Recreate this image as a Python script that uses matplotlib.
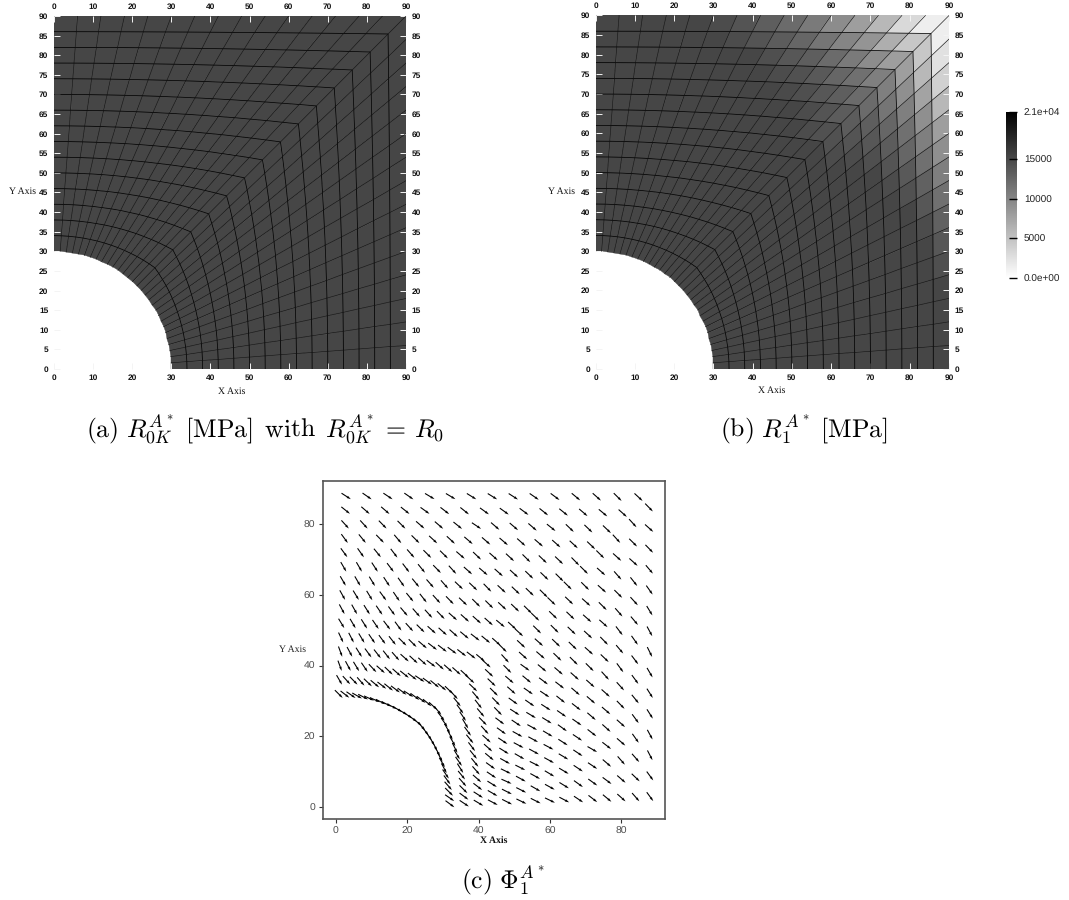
import numpy as np
import matplotlib
matplotlib.use('Agg')
import matplotlib.pyplot as plt
from matplotlib.cm import ScalarMappable
from matplotlib.colors import Normalize

plt.rcParams['font.family'] = ['Liberation Sans', 'DejaVu Sans']
plt.rcParams['mathtext.fontset'] = 'cm'
plt.rcParams['text.hinting'] = 'none'

W, H = 1069, 900

# mesh: hoops cross the left edge here, radials cross the top/right edge here
hoop_y = [30, 34, 38, 42, 46, 50, 54, 58, 62, 66, 70, 74, 78, 82, 86, 90]
edge_pos = [0, 6, 12, 18, 24, 30, 36, 42, 48, 54, 60, 66, 72, 78, 84, 90]
arc_deg = [90, 87, 84, 81, 78, 75, 72, 69, 66, 63, 60, 57, 54, 51, 48, 45,
           42, 39, 36, 33, 30, 27, 24, 21, 18, 15, 12, 9, 6, 3, 0]
hole_r = 30

# panel (a), MPa
r0_value = 15200

# panel (b), MPa, cells counted away from the diagonal, outer hoop first
r1_base = 15200
r1_top = [
    [1470, 3150, 5880, 7980, 9450, 10920, 12180, 13230, 14070, 14700],
    [4620, 6720, 8820, 10080, 11340, 12600, 13440, 14070, 14700],
    [7980, 9450, 10920, 12180, 13230, 13860, 14490],
    [10500, 11760, 12600, 13650, 14280, 14700],
    [12180, 13230, 13860, 14490, 14910],
    [13440, 14070, 14700],
    [14280, 14700],
]
r1_side = [
    [1470, 2520, 3780, 5880, 7980, 9240, 10500, 11760, 13020, 13860, 14490],
    [4620, 5880, 7560, 9240, 10500, 11760, 13020, 13860, 14700],
    [7980, 9240, 10500, 11760, 12600, 13650, 14280],
    [10500, 11340, 12600, 13440, 14070, 14700],
    [12180, 13230, 13860, 14490],
    [13440, 14070, 14700],
    [14280, 14700],
]

# panel (c), direction in degrees, one list per hoop from the outside in, left edge to bottom/right edge
phi_01 = [-33, -35, -34, -35, -31, -31, -32, -32, -33, -35, -37, -40, -42, -45, -43,
          -46, -42, -46, -50, -55, -59, -62, -64, -60, -58, -58, -62, -63, -54, -54]
phi_02 = [-39, -41, -41, -39, -36, -38, -39, -36, -36, -37, -39, -39, -41, -40, -42,
          -48, -45, -42, -52, -48, -50, -55, -53, -54, -51, -54, -55, -49, -44, -49]
phi_03 = [-48, -48, -46, -45, -41, -41, -39, -34, -41, -41, -41, -39, -44, -44, -44,
          -48, -42, -49, -45, -49, -53, -50, -54, -48, -46, -42, -41, -49, -41, -42]
phi_04 = [-54, -51, -46, -50, -45, -43, -43, -41, -41, -41, -42, -41, -42, -43, -44,
          -45, -42, -42, -45, -42, -46, -44, -48, -42, -41, -42, -38, -41, -37, -40]
phi_05 = [-54, -55, -51, -53, -49, -45, -45, -41, -44, -42, -43, -45, -44, -44, -46,
          -45, -45, -42, -42, -43, -42, -45, -42, -41, -41, -38, -30, -34, -36, -38]
phi_06 = [-60, -60, -57, -53, -53, -51, -46, -48, -42, -41, -42, -43, -44, -44, -45,
          -45, -44, -44, -44, -44, -45, -42, -41, -38, -35, -34, -34, -34, -36, -34]
phi_07 = [-60, -60, -59, -57, -55, -51, -49, -49, -44, -44, -46, -43, -44, -44, -45,
          -44, -44, -45, -44, -44, -41, -38, -39, -35, -36, -33, -31, -31, -32, -28]
phi_08 = [-61, -59, -59, -54, -56, -51, -52, -48, -46, -44, -45, -45, -43, -44, -45,
          -44, -45, -42, -41, -40, -37, -34, -33, -32, -31, -28, -29, -31, -29, -26]
phi_09 = [-62, -61, -58, -56, -54, -50, -49, -48, -46, -42, -42, -42, -42, -40, -43,
          -43, -43, -42, -36, -40, -35, -35, -31, -29, -29, -29, -27, -29, -30, -27]
phi_10 = [-59, -60, -58, -56, -53, -54, -48, -45, -42, -42, -42, -40, -38, -40, -42,
          -45, -48, -45, -41, -42, -36, -33, -34, -29, -28, -30, -27, -29, -27, -26]
phi_11 = [-65, -63, -59, -56, -54, -52, -45, -45, -41, -38, -38, -37, -38, -38, -40,
          -42, -43, -44, -45, -46, -46, -37, -36, -34, -32, -29, -26, -24, -27, -27]
phi_12 = [-70, -62, -58, -54, -52, -52, -49, -42, -43, -42, -37, -42, -42, -42, -43,
          -43, -44, -50, -52, -50, -46, -48, -42, -42, -40, -36, -34, -32, -30, -28]
phi_13 = [-70, -62, -59, -56, -47, -42, -44, -42, -39, -38, -34, -36, -40, -40, -44,
          -48, -51, -54, -56, -59, -54, -51, -53, -51, -51, -49, -42, -38, -33, -31]
phi_14 = [-60, -48, -46, -49, -44, -40, -38, -39, -37, -37, -33, -37, -37, -40, -43,
          -50, -52, -55, -60, -62, -60, -63, -59, -55, -58, -51, -49, -45, -37, -34]
phi_15 = [-45, -38, -35, -30, -28, -25, -25, -27, -27, -28, -30, -30, -32, -35, -38,
          -48, -52, -55, -60, -63, -62, -62, -60, -62, -56, -54, -49, -45, -35, -37]
phi_rows = [phi_01, phi_02, phi_03, phi_04, phi_05, phi_06, phi_07, phi_08,
            phi_09, phi_10, phi_11, phi_12, phi_13, phi_14, phi_15]
arrow_len = 3.1

cbar_ticks = [0, 5000, 10000, 15000, 21000]
cbar_labels = ['0.0e+00', '5000', '10000', '15000', '2.1e+04']
cbar_tick_colors = ['#666666', '#000000', '#555555', '#000000', '#000000']


def axes_px(fig, left, top, right, bottom):
  return fig.add_axes([left / W, 1 - bottom / H, (right - left) / W, (bottom - top) / H])


def build_mesh():
  nh, nr = len(hoop_y), len(arc_deg)
  sx = np.array(edge_pos + [90] * (len(edge_pos) - 1), dtype=float)
  sy = np.array([90] * len(edge_pos) + edge_pos[-2::-1], dtype=float)
  th = np.radians(arc_deg)
  ax_, ay_ = hole_r * np.cos(th), hole_r * np.sin(th)
  t = (np.array(hoop_y, dtype=float) - hoop_y[0]) / (hoop_y[-1] - hoop_y[0])
  X = np.zeros((nh, nr))
  Y = np.zeros((nh, nr))
  for j in range(nh):
    X[j] = ax_ + t[j] * (sx - ax_)
    Y[j] = ay_ + t[j] * (sy - ay_)
  return X, Y


def r1_grid():
  C = np.full((15, 30), float(r1_base))
  for r in range(len(r1_top)):
    for m, v in enumerate(r1_top[r]):
      C[14 - r, 14 - m] = v
    for m, v in enumerate(r1_side[r]):
      C[14 - r, 15 + m] = v
  return C


def field_panel(fig, box, C, X, Y):
  ax = axes_px(fig, *box)
  ax.pcolormesh(X, Y, C, shading='flat', cmap='gray_r', vmin=0, vmax=21000,
                edgecolors='face', linewidth=0.3, antialiased=True)
  for j in range(1, X.shape[0] - 1):
    ax.plot(X[j], Y[j], color='black', lw=0.55, solid_joinstyle='miter')
  for k in range(1, X.shape[1] - 1):
    ax.plot(X[:, k], Y[:, k], color='#111111', lw=0.45)
  ax.set_xlim(0, 90)
  ax.set_ylim(0, 90)
  for s in ax.spines.values():
    s.set_visible(False)
  ax.set_xticks(range(0, 91, 10))
  ax.set_yticks(range(0, 91, 5))
  ax.tick_params(direction='in', length=4, width=0.7, color='#f4f4f4', pad=4,
                 top=True, right=True, labeltop=True, labelright=True,
                 labelsize=6, labelcolor='#111111')
  for lab in ax.get_xticklabels() + ax.get_yticklabels():
    lab.set_fontweight('bold')
  return ax


X, Y = build_mesh()
fig = plt.figure(figsize=(W / 100, H / 100), dpi=100)

field_panel(fig, (54, 16, 406, 369), np.full((15, 30), float(r0_value)), X, Y)
field_panel(fig, (595.5, 15.5, 949, 369), r1_grid(), X, Y)

serif = ['Liberation Serif', 'DejaVu Serif']
for xt, yt, s in [(23, 192, 'Y Axis'), (232, 392, 'X Axis'), (562, 192, 'Y Axis'), (772, 391, 'X Axis')]:
  fig.text(xt / W, 1 - yt / H, s, family=serif, fontsize=7, ha='center', va='center', color='#111111')

# colour bar
cax = axes_px(fig, 1006, 112, 1017, 278)
cb = fig.colorbar(ScalarMappable(Normalize(0, 21000), 'gray_r'), cax=cax, ticks=cbar_ticks)
cb.ax.set_yticklabels(cbar_labels)
cb.outline.set_visible(False)
cb.ax.tick_params(direction='in', length=5.5, width=1, pad=5, labelsize=7.2, labelcolor='#222222')
for tick, c in zip(cb.ax.yaxis.get_major_ticks(), cbar_tick_colors):
  tick.tick1line.set_markeredgecolor(c)

# direction field
ax = axes_px(fig, 323, 481, 665, 819)
xc = (X[:-1, :-1] + X[1:, :-1] + X[:-1, 1:] + X[1:, 1:]) / 4
yc = (Y[:-1, :-1] + Y[1:, :-1] + Y[:-1, 1:] + Y[1:, 1:]) / 4
phi = np.radians(np.array(phi_rows, dtype=float))[::-1]
ax.quiver(xc, yc, arrow_len * np.cos(phi), arrow_len * np.sin(phi), angles='xy', scale_units='xy',
          scale=1, pivot='mid', color='black', width=0.0032, headwidth=2.4, headlength=4, headaxislength=3.6)
ax.set_xlim(-3.56, 92.2)
ax.set_ylim(-3.4, 92.3)
ax.set_xticks([0, 20, 40, 60, 80])
ax.set_yticks([0, 20, 40, 60, 80])
ax.tick_params(length=3, width=0.8, color='#333333', labelsize=7.5, labelcolor='#4d4d4d', pad=2.5)
for s in ax.spines.values():
  s.set_color('#555555')
  s.set_linewidth(1.2)
fig.text(293 / W, 1 - 650 / H, 'Y Axis', family=serif, fontsize=7, ha='center', va='center', color='#222222')
fig.text(494 / W, 1 - 842 / H, 'X Axis', family=serif, fontsize=7, ha='center', va='center',
         color='#111111', fontweight='bold')

# captions
capt_a = r'$\mathrm{(a)}\ R_{0K}^{A^*}\ \mathrm{[MPa]}\,\ \mathrm{with}\,\ R_{0K}^{A^*}\,=\,R_0$'
capt_b = r'$\mathrm{(b)}\ R_1^{A^*}\ \mathrm{[MPa]}$'
capt_c = r'$\mathrm{(c)}\ \Phi_1^{A^*}$'
fig.text(86 / W, 1 - 437 / H, capt_a, fontsize=18.5, ha='left', va='baseline', color='black')
fig.text(720 / W, 1 - 437 / H, capt_b, fontsize=18.5, ha='left', va='baseline', color='black')
fig.text(461 / W, 1 - 888 / H, capt_c, fontsize=18.5, ha='left', va='baseline', color='black')

fig.savefig('out.png', dpi=100)
